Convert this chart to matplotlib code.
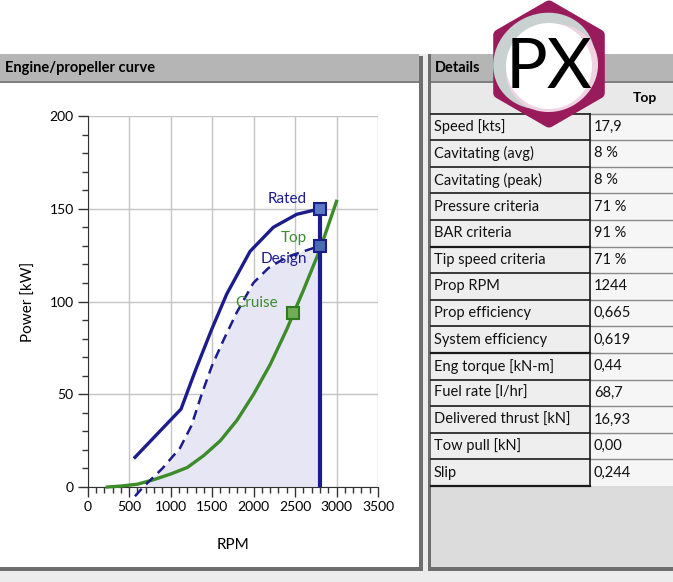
import numpy as np
import matplotlib
matplotlib.use("Agg")
import matplotlib.pyplot as plt
from matplotlib.patches import Rectangle, Polygon, Circle, Ellipse

plt.rcParams['font.family'] = ['Lato', 'DejaVu Sans']

# engine / propeller data
rated_rpm = [570, 1125, 1300, 1495, 1676, 1957, 2238, 2520, 2800]
rated_kw = [16, 42, 63, 85, 104, 127, 140, 147, 150]

design_rpm = [570, 670, 900, 1113, 1250, 1374, 1495, 1635, 1796, 1997, 2178, 2399, 2800]
design_kw = [-5, 0, 10, 21, 33, 50, 65, 79, 94, 110, 118, 124, 130]

prop_rpm = [237, 400, 600, 800, 1000, 1200, 1400, 1600, 1800, 2000, 2200, 2400, 2600, 2800, 3000]
prop_kw = [0, 0.5, 1.5, 4, 7, 10.5, 17, 25, 36, 50, 66, 85, 106, 128, 154]

rated_pt = (2800, 150)
top_pt = (2800, 130)
cruise_pt = (2471, 94)

# details table
row_labels = ["Speed [kts]", "Cavitating (avg)", "Cavitating (peak)", "Pressure criteria",
              "BAR criteria", "Tip speed criteria", "Prop RPM", "Prop efficiency",
              "System efficiency", "Eng torque [kN-m]", "Fuel rate [l/hr]",
              "Delivered thrust [kN]", "Tow pull [kN]", "Slip"]
row_values = ["17,9", "8 %", "8 %", "71 %", "91 %", "71 %", "1244", "0,665", "0,619",
              "0,44", "68,7", "16,93", "0,00", "0,244"]

navy = '#1c1c8c'
green = '#3d8c2a'

W, H = 673, 582
fig = plt.figure(figsize=(W / 100, H / 100), dpi=100)
fig.patch.set_facecolor('white')

# ---- UI layer in pixel coords
ui = fig.add_axes([0, 0, 1, 1], zorder=0)
ui.set_xlim(0, W)
ui.set_ylim(H, 0)
ui.axis('off')

def box(x0, y0, x1, y1, color, z=1):
    ui.add_patch(Rectangle((x0, y0), x1 - x0, y1 - y0, facecolor=color, edgecolor='none', zorder=z))

box(0, 54, W, H, '#ececec')
# left panel
box(0, 56, 423, 571, '#6e6e6e')
box(0, 54, 419, 567, 'white')
box(0, 54, 419, 81, '#b5b5b5')
box(0, 81, 419, 83, '#808080')
ui.text(5, 68, "Engine/propeller curve", fontsize=10.5, fontweight='bold', va='center', ha='left', zorder=5)

# right panel
box(428, 54, W, 571, '#6e6e6e')
box(431, 54, W, 567, '#dcdcdc')
box(431, 54, W, 81, '#b5b5b5')
box(431, 81, W, 83, '#808080')
ui.text(435, 68, "Details", fontsize=10.5, fontweight='bold', va='center', ha='left', zorder=5)
box(431, 83, W, 113, '#e9e9e9')
ui.text(645, 98, "Top", fontsize=10, fontweight='bold', va='center', ha='center', zorder=5)

row_h = 26.6
y0 = 113.5
box(431, y0, 590, y0 + row_h * len(row_labels), '#eeeeee')
box(590, y0, W, y0 + row_h * len(row_labels), '#f6f6f6')
for i, (lab, val) in enumerate(zip(row_labels, row_values)):
    yt = y0 + i * row_h
    ui.text(434, yt + row_h / 2, lab, fontsize=10.5, va='center', ha='left', color='#111111', zorder=5)
    ui.text(594, yt + row_h / 2, val, fontsize=10.5, va='center', ha='left', color='#111111', zorder=5)
    lw = 1.6 if i in (5, 9) else 1.2
    ui.plot([431, 590], [yt, yt], color='#1a1a1a', lw=lw, zorder=4)
    ui.plot([590, W], [yt, yt], color='#8a8a8a', lw=1.0, zorder=4)
yb = y0 + row_h * len(row_labels)
ui.plot([431, 590], [yb, yb], color='#1a1a1a', lw=1.6, zorder=4)
ui.plot([590, 590], [y0, yb], color='#1a1a1a', lw=1.2, zorder=4)

# PX logo
cx, cy, R = 549, 64, 58
ang = np.deg2rad(np.arange(6) * 60 + 90)
hexpts = np.c_[cx + R * np.cos(ang), cy - R * np.sin(ang)]
ui.add_patch(Polygon(hexpts, closed=True, facecolor='#9a1b5b', edgecolor='#9a1b5b',
                     lw=8, joinstyle='round', zorder=10))
ui.add_patch(Ellipse((cx - 5, cy - 3), 104, 94, angle=-30, facecolor='#c9d1d1', edgecolor='none', zorder=11))
ui.add_patch(Ellipse((cx + 3, cy + 4), 94, 86, angle=-30, facecolor='#f0d3e2', edgecolor='none', zorder=11))
ui.add_patch(Circle((cx, cy + 2), 43, facecolor='white', edgecolor='none', zorder=12))
ui.text(cx, cy + 4, "PX", fontsize=50, color='black', ha='center', va='center', zorder=13)

# ---- chart
ax = fig.add_axes([87.7 / W, 1 - 487 / H, 290.3 / W, 371 / H], zorder=2)
ax.set_facecolor('white')
ax.set_xlim(0, 3500)
ax.set_ylim(0, 200)

dr = np.array(design_rpm)
dk = np.array(design_kw)
ax.fill_between(dr[1:], 0, dk[1:], color='#e6e6f5', lw=0, zorder=1)

ax.plot(rated_rpm, rated_kw, color=navy, lw=2.4, zorder=4, solid_joinstyle='round')
ax.plot(design_rpm, design_kw, color=navy, lw=1.8, ls=(0, (4, 2.5)), zorder=4, clip_on=False)
ax.plot(prop_rpm, prop_kw, color=green, lw=2.4, zorder=3, clip_on=False, solid_joinstyle='round')
ax.plot([rated_pt[0], rated_pt[0]], [0, rated_pt[1]], color=navy, lw=3, zorder=4)

ax.plot(*rated_pt, marker='s', ms=8.5, mfc='#5a78c4', mec=navy, mew=1.5, zorder=6, clip_on=False)
ax.plot(*top_pt, marker='s', ms=8.5, mfc='#4a6cb0', mec=navy, mew=1.5, zorder=6)
ax.plot(*cruise_pt, marker='s', ms=8.5, mfc='#6fae55', mec='#2f7a22', mew=1.5, zorder=6)

ax.text(2644, 155, "Rated", color=navy, fontsize=11, ha='right', va='center', zorder=7)
ax.text(2644, 134.5, "Top", color=green, fontsize=11, ha='right', va='center', zorder=7)
ax.text(2644, 123, "Design", color=navy, fontsize=11, ha='right', va='center', zorder=7)
ax.text(2294, 99, "Cruise", color=green, fontsize=11, ha='right', va='center', zorder=7)

ax.set_xticks(np.arange(0, 3501, 500))
ax.set_xticks(np.arange(0, 3501, 100), minor=True)
ax.set_yticks(np.arange(0, 201, 50))
ax.set_yticks(np.arange(0, 201, 10), minor=True)
ax.grid(True, which='major', color='#c4c4c4', lw=1)
ax.set_axisbelow(True)
ax.tick_params(which='major', length=7, width=1, color='#333333', labelsize=10, pad=3)
ax.tick_params(which='minor', length=4, width=1, color='#333333')
for s in ('top', 'right'):
    ax.spines[s].set_visible(False)
for s in ('left', 'bottom'):
    ax.spines[s].set_color('#333333')
ax.set_xlabel("RPM", fontsize=11, labelpad=18)
ax.set_ylabel("Power [kW]", fontsize=11, labelpad=10)

fig.savefig("out.png", dpi=100)
